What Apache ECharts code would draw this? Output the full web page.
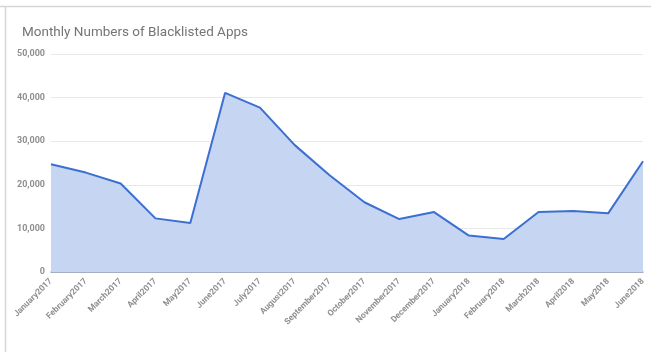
<!DOCTYPE html>
<html>
<head>
<meta charset="utf-8">
<script src="https://cdn.jsdelivr.net/npm/echarts@6/dist/echarts.min.js"></script>
<style>
  html, body { margin: 0; padding: 0; background: #fff; }
  #chart { width: 651px; height: 352px; }
</style>
</head>
<body>
<div id="chart"></div>
<script>
// Months shown on the category axis
const months = [
  'January2017', 'February2017', 'March2017', 'April2017', 'May2017', 'June2017',
  'July2017', 'August2017', 'September2017', 'October2017', 'November2017', 'December2017',
  'January2018', 'February2018', 'March2018', 'April2018', 'May2018', 'June2018'
];

// Blacklisted apps per month
const blacklisted = [
  24700, 22800, 20300, 12300, 11250, 41100,
  37700, 29100, 22200, 16000, 12150, 13750,
  8350, 7550, 13750, 14000, 13450, 25400
];

// Value axis ticks
const yTicks = [0, 10000, 20000, 30000, 40000, 50000];

const chart = echarts.init(document.getElementById('chart'), null, { renderer: 'canvas' });

chart.setOption({
  animation: false,
  backgroundColor: '#ffffff',
  title: {
    text: 'Monthly Numbers of Blacklisted Apps',
    left: 17,
    top: 21,
    textStyle: {
      fontFamily: 'Roboto',
      fontSize: 13.5,
      fontWeight: 'normal',
      color: '#757575'
    }
  },
  graphic: [
    { type: 'line', shape: { x1: 0, y1: 6.5, x2: 651, y2: 6.5 }, style: { stroke: '#d6d6d6', lineWidth: 1.5 }, silent: true },
    { type: 'line', shape: { x1: 5.5, y1: 6, x2: 5.5, y2: 352 }, style: { stroke: '#d6d6d6', lineWidth: 1.5 }, silent: true }
  ],
  grid: {
    left: 51,
    right: 8,
    top: 54,
    bottom: 80,
    containLabel: false
  },
  xAxis: {
    type: 'category',
    data: months,
    boundaryGap: false,
    axisLine: { show: true, lineStyle: { color: '#8e9ab5', width: 1.5 } },
    axisTick: { show: false },
    splitLine: { show: false },
    axisLabel: {
      interval: 0,
      rotate: 45,
      margin: 8,
      fontFamily: 'Roboto',
      fontSize: 8.5,
      fontWeight: 'bold',
      color: '#8f8f8f'
    }
  },
  yAxis: {
    type: 'value',
    min: yTicks[0],
    max: yTicks[yTicks.length - 1],
    interval: 10000,
    axisLine: { show: false },
    axisTick: { show: false },
    splitLine: { show: true, lineStyle: { color: '#e8e8e8', width: 1 } },
    axisLabel: {
      margin: 6,
      fontFamily: 'Roboto',
      fontSize: 9,
      fontWeight: 'bold',
      color: '#8f8f8f',
      formatter: function (v) { return v === 0 ? '0' : v.toLocaleString('en-US'); }
    }
  },
  series: [{
    type: 'line',
    data: blacklisted,
    symbol: 'none',
    smooth: false,
    lineStyle: { color: '#3b6fd1', width: 2 },
    areaStyle: { color: '#c6d5f1', opacity: 1 },
    z: 3
  }]
});
</script>
</body>
</html>
